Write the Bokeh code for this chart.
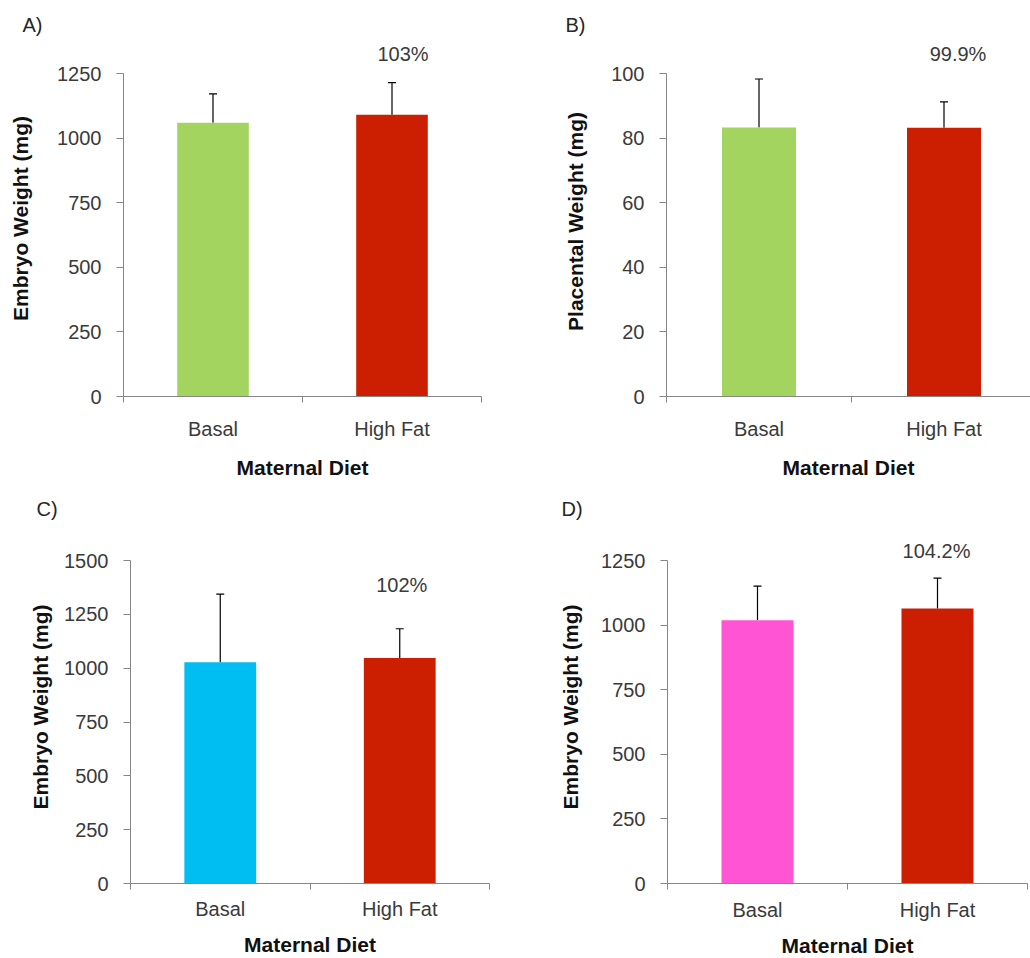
from bokeh.plotting import figure
from bokeh.models import Range1d, FixedTicker, Label, Whisker, TeeHead, ColumnDataSource
from bokeh.layouts import row, column
from bokeh.embed import file_html
from bokeh.resources import INLINE

categories = ["Basal", "High Fat"]

# Panel A: embryo weight
a_values = [1059, 1090]
a_errors = [112, 125]
a_yticks = [0, 250, 500, 750, 1000, 1250]
a_pct = "103%"
a_pct_y = 1298

# Panel B: placental weight
b_values = [83.3, 83.2]
b_errors = [15.0, 8.0]
b_yticks = [0, 20, 40, 60, 80, 100]
b_pct = "99.9%"
b_pct_y = 104

# Panel C: embryo weight
c_values = [1028, 1047]
c_errors = [316, 136]
c_yticks = [0, 250, 500, 750, 1000, 1250, 1500]
c_pct = "102%"
c_pct_y = 1353

# Panel D: embryo weight
d_values = [1019, 1064]
d_errors = [132, 118]
d_yticks = [0, 250, 500, 750, 1000, 1250]
d_pct = "104.2%"
d_pct_y = 1258

FONT = "Liberation Sans"
AXIS_GRAY = "#868686"
TICK_TEXT = "#3a3a3a"
TITLE_TEXT = "#111111"
AXIS_LEN = 323  # pixel length of the value axis


def panel(letter, values, errors, colors, yticks, ylabel, pct, pct_y,
          fig_w, fig_h, frame_left, axis_top, head, cat_px, pct_dx,
          letter_dx, letter_standoff, ytitle_standoff, xlab_standoff, xtitle_standoff):
    fw = int(min(fig_w - frame_left, round(2 * cat_px)))
    x_end = fw / cat_px
    ymax = yticks[-1]
    fh = AXIS_LEN + head
    y_end = ymax * fh / AXIS_LEN
    frame_top = axis_top - head
    p = figure(frame_width=fw, frame_height=fh,
               min_border_left=frame_left, min_border_right=fig_w - frame_left - fw,
               min_border_top=frame_top, min_border_bottom=fig_h - frame_top - fh,
               x_range=Range1d(0, x_end), y_range=Range1d(0, y_end),
               output_backend="svg", toolbar_location=None, tools="")
    p.outline_line_color = None
    p.grid.visible = False
    p.background_fill_color = "white"
    p.border_fill_color = "white"

    p.title.text = letter
    p.title.align = "left"
    p.title.offset = letter_dx
    p.title.standoff = letter_standoff
    p.title.text_font = FONT
    p.title.text_font_size = "20px"
    p.title.text_font_style = "normal"
    p.title.text_color = "#262626"

    centers = [i + 0.5 for i in range(len(categories))]
    src = ColumnDataSource(dict(
        x=centers, top=values,
        upper=[v + e for v, e in zip(values, errors)],
        color=colors))
    p.vbar(x="x", top="top", width=0.4, bottom=0, fill_color="color",
           line_color=None, source=src)
    w = Whisker(base="x", lower="top", upper="upper", source=src,
                dimension="height", line_color="black", line_width=1.2,
                upper_head=TeeHead(size=8, line_color="black", line_width=1.2),
                lower_head=None)
    p.add_layout(w)

    # x axis: labels at category centres, tick marks at boundaries
    xa = p.xaxis[0]
    xa.ticker = FixedTicker(ticks=centers,
                            minor_ticks=[float(i) for i in range(len(categories) + 1)])
    xa.major_label_overrides = {c: n for c, n in zip(centers, categories)}
    xa.major_tick_line_color = None
    xa.major_tick_out = 0
    xa.major_tick_in = 0
    xa.minor_tick_line_color = AXIS_GRAY
    xa.minor_tick_out = 6
    xa.minor_tick_in = 0
    xa.axis_line_color = AXIS_GRAY
    xa.major_label_text_font = FONT
    xa.major_label_text_font_size = "20px"
    xa.major_label_text_color = TICK_TEXT
    xa.major_label_standoff = xlab_standoff
    xa.axis_label = "Maternal Diet"
    xa.axis_label_text_font = FONT
    xa.axis_label_text_font_size = "21px"
    xa.axis_label_text_font_style = "bold"
    xa.axis_label_text_color = TITLE_TEXT
    xa.axis_label_standoff = xtitle_standoff

    ya = p.yaxis[0]
    ya.ticker = FixedTicker(ticks=yticks)
    ya.bounds = (0, ymax)
    ya.major_tick_line_color = AXIS_GRAY
    ya.major_tick_out = 7
    ya.major_tick_in = 0
    ya.minor_tick_line_color = None
    ya.axis_line_color = AXIS_GRAY
    ya.major_label_text_font = FONT
    ya.major_label_text_font_size = "20px"
    ya.major_label_text_color = TICK_TEXT
    ya.major_label_standoff = 15
    ya.axis_label = ylabel
    ya.axis_label_text_font = FONT
    ya.axis_label_text_font_size = "21px"
    ya.axis_label_text_font_style = "bold"
    ya.axis_label_text_color = TITLE_TEXT
    ya.axis_label_standoff = ytitle_standoff

    p.add_layout(Label(x=centers[1], y=pct_y, text=pct, x_offset=pct_dx, y_offset=7,
                       text_align="center", text_baseline="alphabetic",
                       text_font=FONT, text_font_size="20px", text_color=TICK_TEXT))
    return p


GREEN = "#A3D45F"
RED = "#CC1E00"
BLUE = "#00BEF2"
PINK = "#FF55D4"

pa = panel("A)", a_values, a_errors, [GREEN, RED], a_yticks, "Embryo Weight (mg)",
           a_pct, a_pct_y, fig_w=530, fig_h=480, frame_left=123, axis_top=73, head=33,
           cat_px=179, pct_dx=11, letter_dx=-101, letter_standoff=10,
           ytitle_standoff=22, xlab_standoff=15, xtitle_standoff=13)
pb = panel("B)", b_values, b_errors, [GREEN, RED], b_yticks, "Placental  Weight (mg)",
           b_pct, b_pct_y, fig_w=500, fig_h=480, frame_left=136, axis_top=73, head=33,
           cat_px=185, pct_dx=14, letter_dx=-101, letter_standoff=10,
           ytitle_standoff=21, xlab_standoff=15, xtitle_standoff=13)
pc = panel("C)", c_values, c_errors, [BLUE, RED], c_yticks, "Embryo Weight (mg)",
           c_pct, c_pct_y, fig_w=530, fig_h=478, frame_left=130, axis_top=79, head=30,
           cat_px=179.5, pct_dx=2, letter_dx=-94, letter_standoff=22,
           ytitle_standoff=9, xlab_standoff=8, xtitle_standoff=10)
pd_ = panel("D)", d_values, d_errors, [PINK, RED], d_yticks, "Embryo Weight (mg)",
            d_pct, d_pct_y, fig_w=500, fig_h=478, frame_left=137, axis_top=78, head=30,
            cat_px=180, pct_dx=-1, letter_dx=-106, letter_standoff=21,
            ytitle_standoff=16, xlab_standoff=9, xtitle_standoff=10)

layout = column(row(pa, pb), row(pc, pd_))
open("out.html", "w").write(file_html(layout, INLINE))
